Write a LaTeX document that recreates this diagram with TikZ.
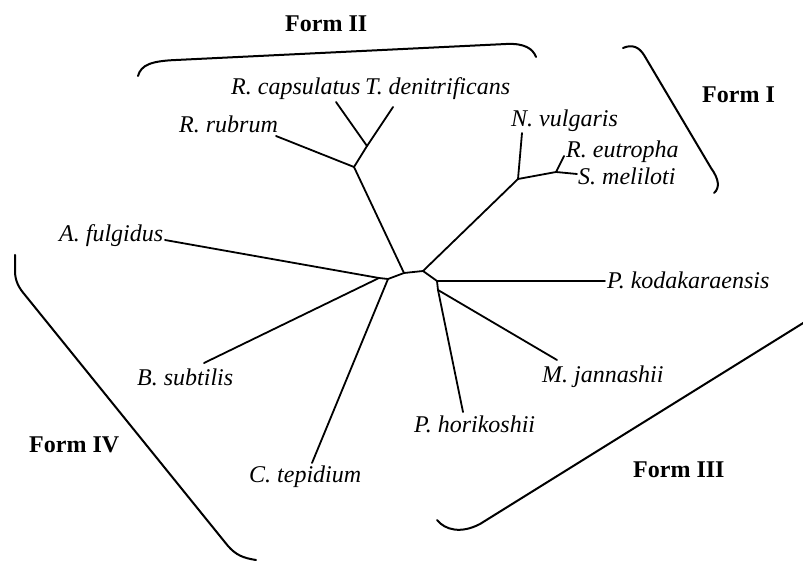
\documentclass[tikz,border=0pt]{standalone}
\usepackage{fontspec}
\setmainfont{Liberation Serif}
\begin{document}
\begin{tikzpicture}[x=1pt,y=-1pt,
  branch/.style={line width=1.8pt,line cap=round,line join=round},
  bracket/.style={line width=2pt,line cap=round},
  taxon/.style={anchor=base west,inner sep=0pt,font=\fontsize{24}{28}\selectfont\itshape},
  formlabel/.style={anchor=base west,inner sep=0pt,font=\fontsize{24}{28}\selectfont\bfseries}]
\useasboundingbox (0,0) rectangle (803,561);
% internal points
\coordinate (nAB) at (379,278);
\coordinate (n1) at (388,279);
\coordinate (n2) at (404,273);
\coordinate (n3) at (423,271);
\coordinate (n4) at (437,281);
\coordinate (n5) at (438,290);
\coordinate (nII) at (354,167);
\coordinate (nRT) at (367,146);
\coordinate (nI) at (518,179);
\coordinate (nRS) at (556,172);
% leaf ends
\coordinate (lAf) at (165,240);
\coordinate (lBs) at (204,363);
\coordinate (lCt) at (312,463);
\coordinate (lPh) at (463,412);
\coordinate (lMj) at (557,360);
\coordinate (lPk) at (605,281);
\coordinate (lSm) at (577,174);
\coordinate (lRe) at (564,156);
\coordinate (lNv) at (522,133);
\coordinate (lRc) at (336,102);
\coordinate (lTd) at (393,107);
\coordinate (lRr) at (276,136);
% tree
\draw[branch] (lAf) -- (nAB) -- (n1) -- (n2) -- (n3) -- (n4) -- (n5);
\draw[branch] (lBs) -- (nAB);
\draw[branch] (lCt) -- (n1);
\draw[branch] (n2) -- (nII) -- (nRT);
\draw[branch] (nII) -- (lRr);
\draw[branch] (nRT) -- (lRc);
\draw[branch] (nRT) -- (lTd);
\draw[branch] (n3) -- (nI) -- (nRS);
\draw[branch] (nI) -- (lNv);
\draw[branch] (nRS) -- (lRe);
\draw[branch] (nRS) -- (lSm);
\draw[branch] (n4) -- (lPk);
\draw[branch] (n5) -- (lPh);
\draw[branch] (n5) -- (lMj);
% taxa
\node[taxon] (tRc) at (231,95) {R. capsulatus};
\node[taxon] (tTd) at (365,95) {T. denitrificans};
\node[taxon] (tRr) at (179,133) {R. rubrum};
\node[taxon] (tNv) at (511,127) {N. vulgaris};
\node[taxon] (tRe) at (566,158) {R. eutropha};
\node[taxon] (tSm) at (578,185) {S. meliloti};
\node[taxon] (tAf) at (59,242) {A. fulgidus};
\node[taxon] (tPk) at (607,289) {P. kodakaraensis};
\node[taxon] (tBs) at (137,385) {B. subtilis};
\node[taxon] (tMj) at (542,382) {M. jannashii};
\node[taxon] (tPh) at (414,432) {P. horikoshii};
\node[taxon] (tCt) at (249,482) {C. tepidium};
% form labels
\node[formlabel] (fII) at (285,32) {Form II};
\node[formlabel] (fI) at (702,103) {Form I};
\node[formlabel] (fIV) at (29,452) {Form IV};
\node[formlabel] (fIII) at (633,477) {Form III};
% brackets
\draw[bracket] (138,76) .. controls (141,65) and (151,61) .. (176,60) -- (506,44) .. controls (525,43) and (533,49) .. (536,57);
\draw[bracket] (623,48) .. controls (632,44) and (639,47) .. (644,55) -- (711,168) .. controls (719,179) and (720,188) .. (714,193);
\draw[bracket] (15,255) -- (15,271) .. controls (15,281) and (19,288) .. (25,295) -- (228,546) .. controls (236,555) and (243,558) .. (256,560);
\draw[bracket] (437,520) .. controls (445,530) and (461,534) .. (480,524) -- (808,320);
\end{tikzpicture}
\end{document}
